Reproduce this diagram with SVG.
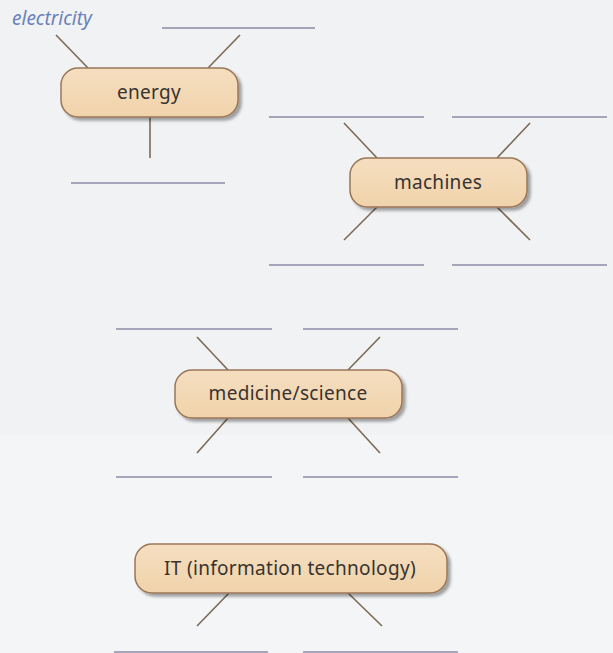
<svg xmlns="http://www.w3.org/2000/svg" width="613" height="653" viewBox="0 0 613 653">
<defs>
<linearGradient id="boxFill" x1="0" y1="0" x2="0" y2="1">
<stop offset="0" stop-color="#f5dec0"/>
<stop offset="1" stop-color="#f0d3ab"/>
</linearGradient>
<filter id="shadow" x="-10%" y="-20%" width="130%" height="160%">
<feGaussianBlur in="SourceAlpha" stdDeviation="1.5"/>
<feOffset dx="3" dy="3" result="b"/>
<feComponentTransfer><feFuncA type="linear" slope="0.35"/></feComponentTransfer>
<feMerge><feMergeNode/><feMergeNode in="SourceGraphic"/></feMerge>
</filter>
</defs>
<style>
.box{fill:url(#boxFill);stroke:#9a7658;stroke-width:1.5;filter:url(#shadow)}
.lbl{font-family:"Noto Sans","Open Sans","Liberation Sans",sans-serif;font-size:19px;fill:#38332f;text-anchor:middle;letter-spacing:0.3px}
.spoke{stroke:#7c6a56;stroke-width:1.6;fill:none}
.blank{stroke:#8c8aa6;stroke-width:1.3;fill:none}
.ans{font-family:"Noto Sans","Open Sans","Liberation Sans",sans-serif;font-style:italic;font-size:19px;fill:#6a82b8}
</style>
<rect x="0" y="0" width="613" height="653" fill="#f1f2f4"/>
<rect x="0" y="435" width="613" height="218" fill="#f4f5f6"/>

<g id="connectors">
<line class="spoke" x1="56" y1="35" x2="88" y2="68"/>
<line class="spoke" x1="240" y1="35" x2="208" y2="68"/>
<line class="spoke" x1="150" y1="117" x2="150" y2="158"/>
<line class="blank" x1="162" y1="28" x2="315" y2="28"/>
<line class="blank" x1="71" y1="183" x2="225" y2="183"/>

<line class="spoke" x1="344" y1="123" x2="377" y2="158"/>
<line class="spoke" x1="530" y1="123" x2="497" y2="158"/>
<line class="spoke" x1="377" y1="207" x2="344" y2="240"/>
<line class="spoke" x1="497" y1="207" x2="530" y2="240"/>
<line class="blank" x1="269" y1="117" x2="424" y2="117"/>
<line class="blank" x1="452" y1="117" x2="607" y2="117"/>
<line class="blank" x1="269" y1="265" x2="424" y2="265"/>
<line class="blank" x1="452" y1="265" x2="607" y2="265"/>

<line class="spoke" x1="197" y1="337" x2="228" y2="370"/>
<line class="spoke" x1="380" y1="337" x2="348" y2="370"/>
<line class="spoke" x1="228" y1="418" x2="197" y2="453"/>
<line class="spoke" x1="348" y1="418" x2="380" y2="453"/>
<line class="blank" x1="116" y1="329" x2="272" y2="329"/>
<line class="blank" x1="303" y1="329" x2="458" y2="329"/>
<line class="blank" x1="116" y1="477" x2="272" y2="477"/>
<line class="blank" x1="303" y1="477" x2="458" y2="477"/>

<line class="spoke" x1="229" y1="593" x2="197" y2="626"/>
<line class="spoke" x1="348" y1="593" x2="382" y2="626"/>
<line class="blank" x1="114" y1="652" x2="268" y2="652"/>
<line class="blank" x1="303" y1="652" x2="458" y2="652"/>
</g>

<text class="ans" x="12" y="25">electricity</text>

<g id="energy">
<rect class="box" x="61" y="68" width="177" height="49" rx="17"/>
<text class="lbl" x="149" y="99">energy</text>
</g>
<g id="machines">
<rect class="box" x="350" y="158" width="177" height="49" rx="17"/>
<text class="lbl" x="438" y="189">machines</text>
</g>
<g id="medicine">
<rect class="box" x="175" y="370" width="227" height="48" rx="17"/>
<text class="lbl" x="288" y="400">medicine/science</text>
</g>
<g id="it">
<rect class="box" x="135" y="544" width="312" height="49" rx="17"/>
<text class="lbl" x="290" y="575">IT (information technology)</text>
</g>
</svg>
